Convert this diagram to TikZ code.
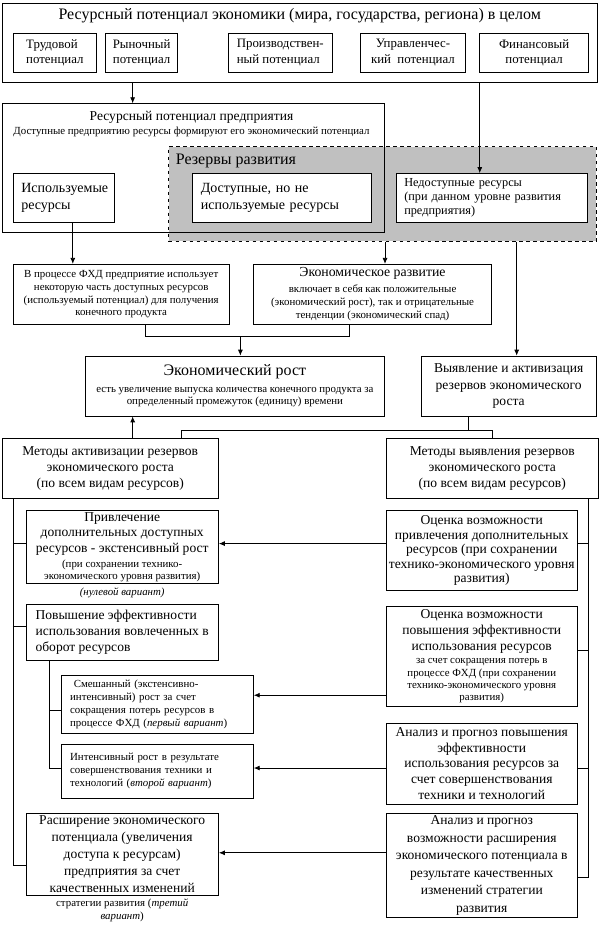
\documentclass[tikz,border=0pt]{standalone}
\usepackage{fontspec}
\setmainfont{Liberation Serif}
\usetikzlibrary{arrows.meta,positioning,calc}
\definecolor{rezgray}{RGB}{192,192,192}
\newcommand{\sml}{\fontsize{9.3}{11}\selectfont}
\newcommand{\bgf}{\fontsize{13.7}{15.5}\selectfont}

\begin{document}
\begin{tikzpicture}[x=0.03cm, y=-0.03cm, line width=0.7pt,
  every node/.style={font=\fontsize{11.6}{13.5}\selectfont},
  bx/.style={draw, fill=white, align=center, inner sep=1pt},
  lt/.style={align=left, inner xsep=0.25cm},
  tp/.style={font=\fontsize{11}{13.5}\selectfont},
  sm/.style={font=\sml},
  ar/.style={-{Latex[length=1.8mm,width=1.5mm]}}]
  \fill[white] (0,0) rectangle (602,926);
  % ресурсный потенциал экономики
  \node[bx, minimum width=17.91cm, minimum height=2.4cm] (econ) at (300.5,43) {};
  \node[font=\bgf] (econt) at (300.5,16)
    {Ресурсный потенциал экономики (мира, государства, региона) в целом};
  \node[bx, tp, align=left, minimum width=2.52cm, minimum height=1.2cm] (trud) at (55,53)
    {Трудовой\\потенциал};
  \node[bx, tp, minimum width=2.16cm, minimum height=1.2cm] (ryn) at (142,53)
    {Рыночный\\потенциал};
  \node[bx, tp, align=left, minimum width=3.12cm, minimum height=1.2cm] (proizv) at (281,53)
    {Производствен-\\ный потенциал};
  \node[bx, tp, minimum width=3.18cm, minimum height=1.2cm] (uprav) at (414,53)
    {Управленчес-\\кий~~потенциал};
  \node[bx, tp, minimum width=3.27cm, minimum height=1.2cm] (fin) at (535.5,53)
    {Финансовый\\потенциал};
  % предприятие и резервы развития
  \node[draw, dashed, fill=rezgray, minimum width=12.87cm, minimum height=2.85cm] (rez) at (383.5,194.5) {};
  \node[draw, minimum width=11.49cm, minimum height=3.87cm] (ent) at (193.5,168.5) {};
  \node (entt) at (192,118) {Ресурсный потенциал предприятия};
  \node[sm] (ents) at (192,132)
    {Доступные предприятию ресурсы формируют его экономический потенциал};
  \node[font=\bgf, anchor=west] (rezt) at (172,161) {Резервы развития};
  \node[bx, lt, text width=2.56cm, font=\fontsize{12}{14}\selectfont, minimum height=1.47cm] (isp) at (64,198.5)
    {Используемые\\ресурсы};
  \node[bx, lt, text width=4.87cm, font=\fontsize{12}{14}\selectfont, minimum height=1.47cm] (dost) at (282.5,198.5)
    {Доступные, но не\\используемые ресурсы};
  \node[bx, lt, text width=5.26cm, font=\fontsize{10.5}{12}\selectfont, minimum height=1.47cm] (nedost) at (493,198.5)
    {Недоступные ресурсы\\(при данном уровне развития\\предприятия)};
  % процесс и развитие
  \node[bx, sm, minimum width=6.51cm, minimum height=1.8cm] (proc) at (121.5,295)
    {В процессе ФХД предприятие использует\\некоторую часть доступных ресурсов\\(используемый потенциал) для получения\\конечного продукта};
  \node[bx, sm, minimum width=7.17cm, minimum height=1.8cm] (razv) at (373.5,295)
    {\fontsize{11.8}{13}\selectfont Экономическое развитие\\[3pt]включает в себя как положительные\\(экономический рост), так и отрицательные\\тенденции (экономический спад)};
  \node[bx, sm, minimum width=8.97cm, minimum height=1.8cm] (rost) at (235.5,387)
    {\bgf Экономический рост\\[3pt]есть увеличение выпуска количества конечного продукта за\\определенный промежуток (единицу) времени};
  \node[bx, font=\fontsize{11.6}{14.5}\selectfont, minimum width=5.28cm, minimum height=1.8cm] (vyav) at (510,387)
    {Выявление и активизация\\резервов экономического\\роста};
  % методы
  \node[bx, minimum width=6.51cm, minimum height=1.8cm] (makt) at (110.5,470)
    {Методы активизации резервов\\экономического роста\\(по всем видам ресурсов)};
  \node[bx, minimum width=6.39cm, minimum height=1.8cm] (mvyav) at (493.5,470)
    {Методы выявления резервов\\экономического роста\\(по всем видам ресурсов)};
  \node[bx, minimum width=5.79cm, minimum height=2.19cm] (privl) at (122.5,548.5)
    {Привлечение\\дополнительных доступных\\ресурсов - экстенсивный рост\\[-1pt]\sml(при сохранении технико-\\[-3pt]\sml экономического уровня развития)};
  \node[font=\sml\itshape] (privlv) at (122.5,594) {(нулевой вариант)};
  \node[bx, font=\fontsize{11.6}{12.5}\selectfont, minimum width=5.76cm, minimum height=2.4cm] (ocpr) at (483,552)
    {Оценка возможности\\привлечения дополнительных\\ресурсов (при сохранении\\технико-экономического уровня\\развития)};
  \node[bx, align=left, font=\fontsize{11.6}{14}\selectfont, minimum width=5.79cm, minimum height=1.68cm] (povysh) at (122.5,634)
    {Повышение эффективности\\использования вовлеченных в\\оборот ресурсов};
  \node[bx, minimum width=5.76cm, minimum height=3.0cm] (ocpov) at (483,658)
    {Оценка возможности\\повышения эффективности\\использования ресурсов\\[-2pt]\sml за счет сокращения потерь в\\[-3pt]\sml процессе ФХД (при сохранении\\[-3pt]\sml технико-экономического уровня\\[-3pt]\sml развития)};
  \node[bx, sm, lt, text width=5.26cm, minimum height=1.74cm] (smesh) at (158,706)
    {~Смешанный (экстенсивно-\\интенсивный) рост за счет\\сокращения потерь ресурсов в\\процессе ФХД (\textit{первый вариант})};
  \node[bx, font=\fontsize{11.6}{13.5}\selectfont, minimum width=5.76cm, minimum height=2.43cm] (anpov) at (483,765.5)
    {Анализ и прогноз повышения\\эффективности\\использования ресурсов за\\счет совершенствования\\техники и технологий};
  \node[bx, sm, lt, text width=5.26cm, minimum height=1.62cm] (intens) at (158,773)
    {Интенсивный рост в результате\\совершенствования техники и\\технологий (\textit{второй вариант})};
  \node[bx, font=\fontsize{11.6}{14.5}\selectfont, minimum width=5.79cm, minimum height=2.49cm] (rassh) at (122.5,856.5)
    {Расширение экономического\\потенциала (увеличения\\доступа к ресурсам)\\предприятия за счет\\качественных изменений};
  \node[font=\sml, align=center] (rasshv) at (122.5,913)
    {стратегии развития (\textit{третий}\\\textit{вариант})};
  \node[bx, font=\fontsize{11.6}{15}\selectfont, minimum width=5.76cm, minimum height=3.15cm] (anras) at (483,867.5)
    {Анализ и прогноз\\возможности расширения\\экономического потенциала в\\результате качественных\\изменений стратегии\\развития};
  % связи
  \draw[ar] (133,0 |- econ.south) -- (133,0 |- ent.north);
  \draw[ar] (481,0 |- econ.south) -- (481,0 |- nedost.north);
  \draw[ar] (73,0 |- isp.south) -- (73,0 |- proc.north);
  \draw[ar] (386,0 |- rez.south) -- (386,0 |- razv.north);
  \draw[ar] (518,0 |- rez.south) -- (518,0 |- vyav.north);
  \draw (146,0 |- proc.south) -- (146,337) -- (350,337) -- (350,0 |- razv.south);
  \draw[ar] (241,337) -- (241,0 |- rost.north);
  \draw[ar] (133,0 |- makt.north) -- (133,0 |- rost.south);
  \draw (470,0 |- vyav.south) -- (470,432);
  \draw (182,0 |- makt.north) -- (182,432) -- (494,432) -- (494,0 |- mvyav.north);
  \draw (13,0 |- makt.south) -- (13,868) -- (13,868 -| rassh.west);
  \draw (13,545) -- (13,545 -| privl.west);
  \draw (13,628) -- (13,628 -| povysh.west);
  \draw (50,0 |- povysh.south) -- (50,770) -- (50,770 -| intens.west);
  \draw (50,712) -- (50,712 -| smesh.west);
  \draw (590,0 |- mvyav.south) -- (590,880) -- (590,880 -| anras.east);
  \draw (590,545) -- (590,545 -| ocpr.east);
  \draw (590,652) -- (590,652 -| ocpov.east);
  \draw (590,770) -- (590,770 -| anpov.east);
  \draw[ar] (ocpr.west |- 0,545) -- (privl.east |- 0,545);
  \draw[ar] (ocpov.west |- 0,697) -- (smesh.east |- 0,697);
  \draw[ar] (anpov.west |- 0,770) -- (intens.east |- 0,770);
  \draw[ar] (anras.west |- 0,855) -- (rassh.east |- 0,855);
\end{tikzpicture}
\end{document}
